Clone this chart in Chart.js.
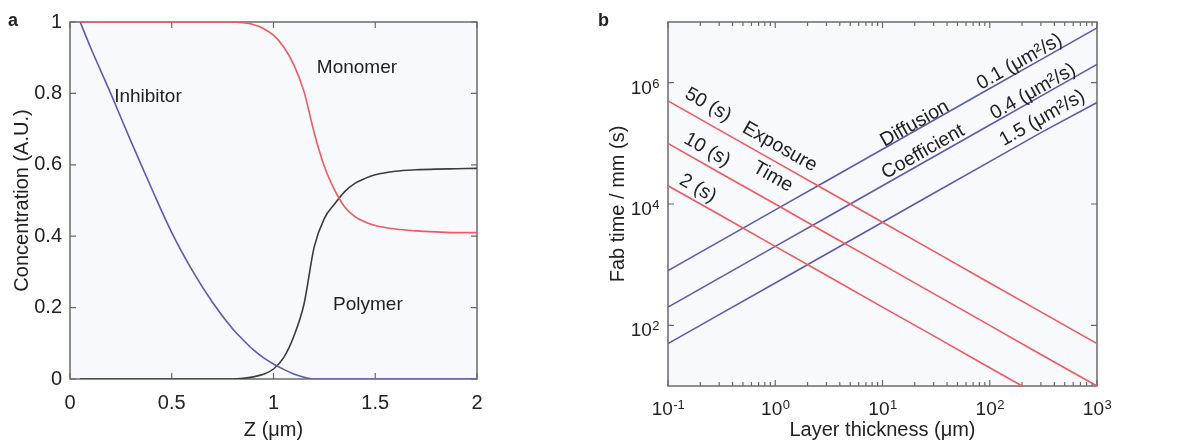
<!DOCTYPE html>
<html>
<head>
<meta charset="utf-8">
<title>Concentration profiles and fabrication time</title>
<script src="https://cdn.jsdelivr.net/npm/chart.js@4/dist/chart.umd.min.js"></script>
<style>
  body { margin: 0; background: #fff; width: 1178px; height: 440px; overflow: hidden; font-family: "Liberation Sans", Arial, sans-serif; }
  .panel { position: absolute; top: 0; height: 440px; }
  #pa { left: 0; width: 590px; }
  #pb { left: 590px; width: 588px; }
  .tag { position: absolute; font-weight: bold; font-size: 18px; line-height: 1; color: #222; }
</style>
</head>
<body>
<div class="panel" id="pa"><canvas id="chartA"></canvas></div>
<div class="panel" id="pb"><canvas id="chartB"></canvas></div>
<div class="tag" style="left:8px;top:11px">a</div>
<div class="tag" style="left:598px;top:11px">b</div>
<script>
// ---- panel a: concentration vs depth ----
const zVals = [0.05, 0.1, 0.2, 0.3, 0.4, 0.5, 0.6, 0.7, 0.8, 0.85, 0.9, 0.95, 1.0, 1.05, 1.1, 1.15, 1.2, 1.25, 1.3, 1.35, 1.4, 1.45, 1.5, 1.6, 1.7, 1.8, 1.9, 2.0];
const inhibitor = [1.0, 0.93, 0.80, 0.665, 0.535, 0.41, 0.305, 0.215, 0.14, 0.11, 0.082, 0.06, 0.042, 0.027, 0.014, 0.005, 0.0, 0, 0, 0, 0, 0, 0, 0, 0, 0, 0, 0];
const monomer = [1, 1, 1, 1, 1, 1, 1, 1, 1.0, 0.998, 0.993, 0.982, 0.963, 0.93, 0.88, 0.805, 0.69, 0.595, 0.53, 0.482, 0.455, 0.44, 0.43, 0.42, 0.415, 0.412, 0.41, 0.41];
const polymer = [0, 0, 0, 0, 0, 0, 0, 0, 0.0, 0.002, 0.006, 0.013, 0.028, 0.06, 0.12, 0.21, 0.37, 0.45, 0.49, 0.525, 0.548, 0.562, 0.572, 0.582, 0.586, 0.588, 0.589, 0.59];
const zTicks = [0, 0.5, 1, 1.5, 2];
const concTicks = [0, 0.2, 0.4, 0.6, 0.8, 1];
const notesA = [
  { text: 'Inhibitor', x: 0.383, y: 0.79, angle: 0 },
  { text: 'Monomer', x: 1.41, y: 0.871, angle: 0 },
  { text: 'Polymer', x: 1.464, y: 0.207, angle: 0 }
];

// ---- panel b: fab time vs layer thickness (log-log) ----
const thickness = [0.1, 0.3, 1, 3, 10, 30, 100, 300, 1000];
const exp50 = [5e5, 1.67e5, 5e4, 1.67e4, 5e3, 1.67e3, 500, 167, 50];
const exp10 = [1e5, 3.3e4, 1e4, 3.3e3, 1e3, 333, 100, 33, 10];
const exp2 = [2e4, 6.7e3, 2e3, 670, 200, 67, 20, 6.7, 2];
const dif01 = [800, 2.4e3, 8e3, 2.4e4, 8e4, 2.4e5, 8e5, 2.4e6, 8e6];
const dif04 = [200, 600, 2e3, 6e3, 2e4, 6e4, 2e5, 6e5, 2e6];
const dif15 = [50, 150, 500, 1.5e3, 5e3, 1.5e4, 5e4, 1.5e5, 4.7e5];
const thickTicks = [0.1, 1, 10, 100, 1000];
const thickExp = ['-1', '0', '1', '2', '3'];
const timeTicks = [100, 1e4, 1e6];
const timeExp = ['2', '4', '6'];
const notesB = [
  { text: '50 (s)', x: 0.236, y: 4.3e5, angle: 29.5 },
  { text: '10 (s)', x: 0.231, y: 7.8e4, angle: 29.5 },
  { text: '2 (s)', x: 0.19, y: 1.8e4, angle: 29.5 },
  { text: 'Exposure', x: 1.1, y: 8.7e4, angle: 29.5 },
  { text: 'Time', x: 0.95, y: 2.8e4, angle: 29.5 },
  { text: 'Diffusion', x: 20, y: 2.1e5, angle: -29.5 },
  { text: 'Coefficient', x: 23.9, y: 7.2e4, angle: -29.5 },
  { text: '0.1 (\u03bcm\u00b2/s)', x: 190, y: 2.2e6, angle: -29.5 },
  { text: '0.4 (\u03bcm\u00b2/s)', x: 253, y: 7.1e5, angle: -29.5 },
  { text: '1.5 (\u03bcm\u00b2/s)', x: 309, y: 2.6e5, angle: -29.5 }
];

const FONT = '"Liberation Sans", Arial, sans-serif';
const TEXT = '#222';
const FRAME = '#6a6a6a';
const RED = 'rgb(238,90,95)';
const BLUE = 'rgb(92,92,172)';
const DARK = '#3c3c3c';
const PLOT_BG = '#f8f9fc';

const pts = (xs, ys) => xs.map((x, i) => ({ x: x, y: ys[i] }));

function line(label, data, color, smooth) {
  const ds = { label: label, data: data, borderColor: color, borderWidth: 1.6, pointRadius: 0, fill: false, tension: 0 };
  if (smooth) ds.cubicInterpolationMode = 'monotone';
  return ds;
}

function drawNotes(chart, notes, size) {
  const { ctx, scales: { x, y } } = chart;
  ctx.save();
  ctx.fillStyle = TEXT;
  ctx.font = size + 'px ' + FONT;
  ctx.textAlign = 'center';
  ctx.textBaseline = 'middle';
  notes.forEach(n => {
    ctx.save();
    ctx.translate(x.getPixelForValue(n.x), y.getPixelForValue(n.y));
    ctx.rotate(n.angle * Math.PI / 180);
    ctx.fillText(n.text, 0, 0);
    ctx.restore();
  });
  ctx.restore();
}

// background, frame and inward ticks
function framePlugin(opts) {
  return {
    id: 'frame',
    beforeDraw(chart) {
      const { ctx, chartArea: a } = chart;
      ctx.save();
      ctx.fillStyle = PLOT_BG;
      ctx.fillRect(a.left, a.top, a.right - a.left, a.bottom - a.top);
      ctx.restore();
    },
    beforeDatasetsDraw(chart) {
      const { ctx, chartArea: a, scales: { x, y } } = chart;
      ctx.save();
      ctx.strokeStyle = FRAME;
      ctx.lineWidth = 1.5;
      ctx.strokeRect(a.left, a.top, a.right - a.left, a.bottom - a.top);
      ctx.lineWidth = 1.2;
      ctx.beginPath();
      opts.xMajor.forEach(v => {
        const px = x.getPixelForValue(v);
        ctx.moveTo(px, a.bottom); ctx.lineTo(px, a.bottom - 6);
        ctx.moveTo(px, a.top); ctx.lineTo(px, a.top + 6);
      });
      (opts.xMinor || []).forEach(v => {
        const px = x.getPixelForValue(v);
        ctx.moveTo(px, a.bottom); ctx.lineTo(px, a.bottom - 4);
        ctx.moveTo(px, a.top); ctx.lineTo(px, a.top + 4);
      });
      opts.yMajor.forEach(v => {
        const py = y.getPixelForValue(v);
        ctx.moveTo(a.left, py); ctx.lineTo(a.left + 6, py);
        ctx.moveTo(a.right, py); ctx.lineTo(a.right - 6, py);
      });
      ctx.stroke();
      ctx.restore();
    },
    afterDatasetsDraw(chart) {
      drawNotes(chart, opts.notes, opts.noteSize);
      if (opts.powers) opts.powers(chart);
    }
  };
}

// ---- chart a ----
new Chart(document.getElementById('chartA'), {
  type: 'line',
  data: {
    datasets: [
      line('Inhibitor', pts(zVals, inhibitor), BLUE, true),
      line('Monomer', pts(zVals, monomer), RED, true),
      line('Polymer', pts(zVals, polymer), DARK, true)
    ]
  },
  options: {
    responsive: true,
    maintainAspectRatio: false,
    animation: false,
    devicePixelRatio: 1,
    layout: { padding: { left: 0, top: 22, right: 113, bottom: 0 } },
    plugins: { legend: { display: false }, tooltip: { enabled: false } },
    scales: {
      x: {
        type: 'linear', min: 0, max: 2,
        afterBuildTicks: s => { s.ticks = zTicks.map(v => ({ value: v })); },
        afterFit: s => { s.height = 61; },
        grid: { display: false, drawTicks: false },
        border: { display: false },
        ticks: { color: TEXT, font: { family: FONT, size: 20 }, padding: 12, maxRotation: 0, callback: v => String(v) },
        title: { display: true, text: 'Z (\u03bcm)', color: TEXT, font: { family: FONT, size: 20, lineHeight: 1 }, padding: { top: 0, bottom: 0 } }
      },
      y: {
        type: 'linear', min: 0, max: 1,
        afterBuildTicks: s => { s.ticks = concTicks.map(v => ({ value: v })); },
        afterFit: s => { s.width = 70; },
        grid: { display: false, drawTicks: false },
        border: { display: false },
        ticks: { color: TEXT, font: { family: FONT, size: 20 }, padding: 8, callback: v => String(v) },
        title: { display: true, text: 'Concentration (A.U.)', color: TEXT, font: { family: FONT, size: 20, lineHeight: 1 }, padding: { top: 12, bottom: 0 } }
      }
    }
  },
  plugins: [framePlugin({ xMajor: zTicks, yMajor: concTicks, notes: notesA, noteSize: 19 })]
});

// ---- chart b ----
const minorThick = [];
thickTicks.slice(0, -1).forEach(d => { for (let k = 2; k <= 9; k++) minorThick.push(d * k); });

function drawPowers(chart) {
  const { ctx, chartArea: a, scales: { x, y } } = chart;
  const label = (px, py, exp, align) => {
    ctx.font = '19px ' + FONT;
    const bw = ctx.measureText('10').width;
    ctx.font = '13px ' + FONT;
    const ew = ctx.measureText(exp).width;
    const left = align === 'center' ? px - (bw + ew) / 2 : px - bw - ew;
    ctx.font = '19px ' + FONT;
    ctx.fillText('10', left, py);
    ctx.font = '13px ' + FONT;
    ctx.fillText(exp, left + bw + 0.5, py - 6);
  };
  ctx.save();
  ctx.fillStyle = TEXT;
  ctx.textAlign = 'left';
  ctx.textBaseline = 'alphabetic';
  thickTicks.forEach((v, i) => label(x.getPixelForValue(v), a.bottom + 29, thickExp[i], 'center'));
  timeTicks.forEach((v, i) => label(a.left - 9, y.getPixelForValue(v) + 11, timeExp[i], 'right'));
  ctx.restore();
}

new Chart(document.getElementById('chartB'), {
  type: 'line',
  data: {
    datasets: [
      line('50 (s)', pts(thickness, exp50), RED),
      line('10 (s)', pts(thickness, exp10), RED),
      line('2 (s)', pts(thickness, exp2), RED),
      line('0.1', pts(thickness, dif01), BLUE),
      line('0.4', pts(thickness, dif04), BLUE),
      line('1.5', pts(thickness, dif15), BLUE)
    ]
  },
  options: {
    responsive: true,
    maintainAspectRatio: false,
    animation: false,
    devicePixelRatio: 1,
    layout: { padding: { left: 0, top: 22, right: 81, bottom: 0 } },
    plugins: { legend: { display: false }, tooltip: { enabled: false } },
    scales: {
      x: {
        type: 'logarithmic', min: 0.1, max: 1000,
        afterBuildTicks: s => { s.ticks = thickTicks.map(v => ({ value: v })); },
        afterFit: s => { s.height = 54; },
        grid: { display: false, drawTicks: false },
        border: { display: false },
        ticks: { display: false },
        title: { display: true, text: 'Layer thickness (\u03bcm)', color: TEXT, font: { family: FONT, size: 20, lineHeight: 1 }, padding: { top: 0, bottom: 0 } }
      },
      y: {
        type: 'logarithmic', min: 10, max: 1e7,
        afterBuildTicks: s => { s.ticks = timeTicks.map(v => ({ value: v })); },
        afterFit: s => { s.width = 78; },
        grid: { display: false, drawTicks: false },
        border: { display: false },
        ticks: { display: false },
        title: { display: true, text: 'Fab time / mm (s)', color: TEXT, font: { family: FONT, size: 20, lineHeight: 1 }, padding: { top: 18, bottom: 0 } }
      }
    }
  },
  plugins: [framePlugin({ xMajor: thickTicks, xMinor: minorThick, yMajor: timeTicks, notes: notesB, noteSize: 19.5, powers: drawPowers })]
});
</script>
</body>
</html>
